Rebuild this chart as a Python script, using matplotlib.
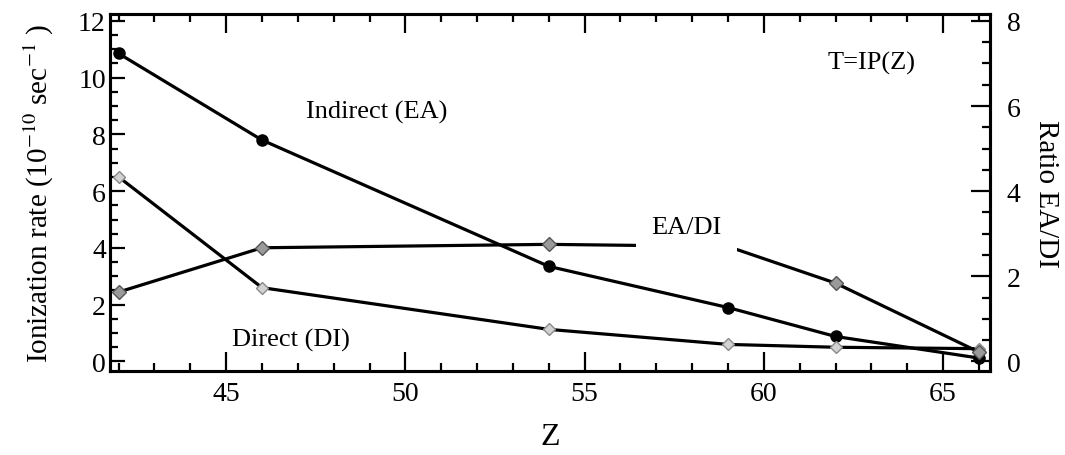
import matplotlib
matplotlib.use('Agg')
import matplotlib.pyplot as plt
from matplotlib.ticker import MultipleLocator

plt.rcParams['font.family'] = ['Liberation Serif', 'DejaVu Serif']
plt.rcParams['mathtext.fontset'] = 'stix'

# Data
z = [42, 46, 54, 59, 62, 66]
indirect_ea = [10.85, 7.8, 3.35, 1.9, 0.88, 0.12]   # left axis
direct_di = [6.5, 2.6, 1.13, 0.6, 0.5, 0.45]         # left axis
ratio_ea_di = [1.63, 2.67, 2.75, 2.7, 1.84, 0.22]    # right axis

fig = plt.figure(figsize=(10.65, 4.56), dpi=100)
ax1 = fig.add_axes([0.1033, 0.184, 0.8263, 0.783])

# Ionization rates on the left axis
ax1.plot(z, indirect_ea, color='black', lw=2.3, marker='o', ms=8,
         mfc='black', mec='black', zorder=3)
ax1.plot(z, direct_di, color='black', lw=2.3, marker='D', ms=6.5,
         mfc='#d2d2d2', mec='#8a8a8a', mew=1.0, zorder=3)

ax1.set_xlim(41.76, 66.31)
ax1.set_ylim(-0.34, 12.24)
ax1.xaxis.set_major_locator(MultipleLocator(5))
ax1.xaxis.set_minor_locator(MultipleLocator(1))
ax1.yaxis.set_major_locator(MultipleLocator(2))
ax1.yaxis.set_minor_locator(MultipleLocator(0.5))
ax1.tick_params(axis='both', which='both', direction='in', width=1.6,
                labelsize=20)
ax1.tick_params(axis='x', which='both', top=True)
ax1.tick_params(axis='x', which='major', length=14, pad=7)
ax1.tick_params(axis='x', which='minor', length=6)
ax1.tick_params(axis='y', which='major', length=11, pad=3)
ax1.tick_params(axis='y', which='minor', length=6)
ax1.set_xlabel('Z', fontsize=23, labelpad=12)
ax1.set_ylabel('Ionization rate (10$^{-10}$ sec$^{-1}$ )', fontsize=21,
               labelpad=16)

# Ratio on the right axis
ax2 = ax1.twinx()
ax2.plot(z, ratio_ea_di, color='black', lw=2.3, marker='D', ms=7.5,
         mfc='#9a9a9a', mec='#555555', mew=1.0, zorder=3)
ax2.set_ylim(-0.227, 8.16)
ax2.yaxis.set_major_locator(MultipleLocator(2))
ax2.yaxis.set_minor_locator(MultipleLocator(0.5))
ax2.tick_params(axis='y', which='both', direction='in', width=1.6,
                labelsize=20)
ax2.tick_params(axis='y', which='major', length=14, pad=12)
ax2.tick_params(axis='y', which='minor', length=6)
ax2.set_ylabel('Ratio EA/DI', fontsize=21, rotation=270, labelpad=28)

for ax in (ax1, ax2):
    for s in ax.spines.values():
        s.set_linewidth(2.2)

# Annotations
ax2.text(49.2, 8.8 * 8 / 12, 'Indirect (EA)', fontsize=19, ha='center',
         va='center')
ax2.text(46.8, 0.78 * 8 / 12, 'Direct (DI)', fontsize=19, ha='center',
         va='center')
ax2.text(63.0, 10.54 * 8 / 12, 'T=IP(Z)', fontsize=19, ha='center',
         va='center')
ax2.text(57.85, 4.72 * 8 / 12, 'EA/DI', fontsize=19, ha='center',
         va='center', zorder=5,
         bbox=dict(facecolor='white', edgecolor='none', pad=11))

fig.savefig('out.png', dpi=100)
